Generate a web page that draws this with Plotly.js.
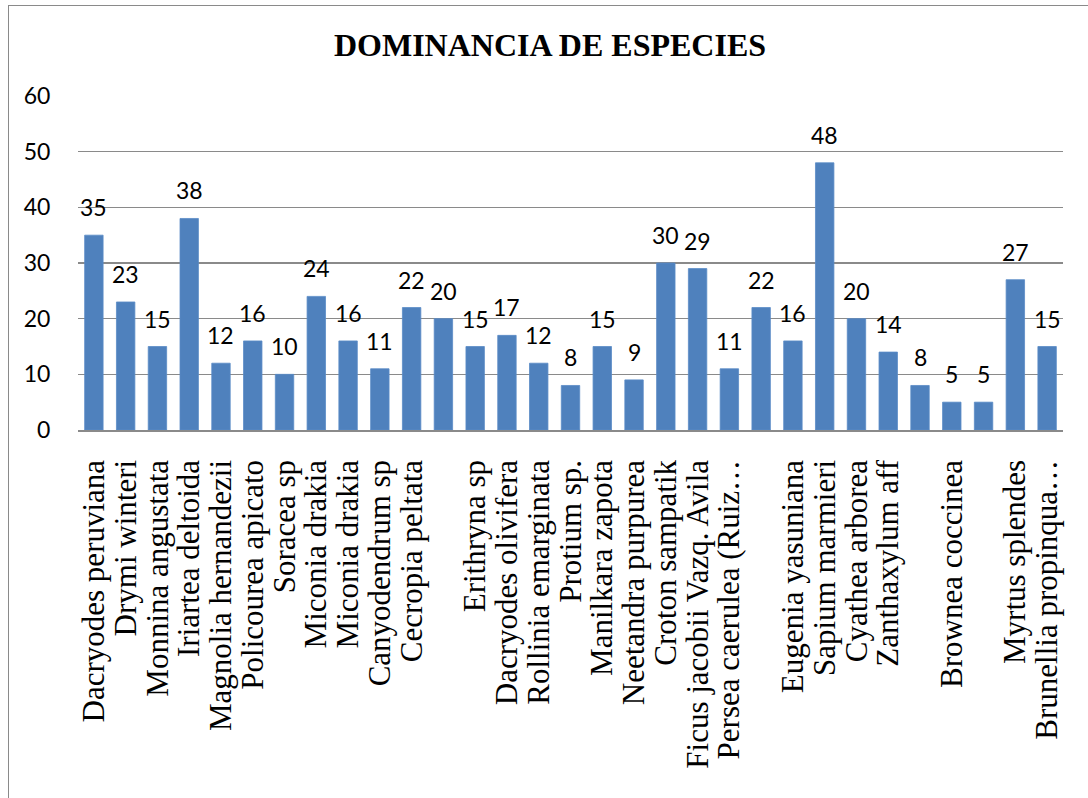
<!DOCTYPE html>
<html>
<head>
<meta charset="utf-8">
<script src="https://cdn.plot.ly/plotly-3.0.1.min.js"></script>
<style>
  html, body { margin: 0; padding: 0; background: #fff; overflow: hidden; }
  #chart { width: 1088px; height: 798px; position: absolute; left: 0; top: 0; }
  #frame { position: absolute; left: 8px; top: 5px; width: 1200px; height: 900px;
           border: 1.5px solid #8a8a8a; pointer-events: none; box-sizing: border-box; }
</style>
</head>
<body>
<div id="chart"></div>
<div id="frame"></div>
<script>
// ---- data ----
const categories = [
  "Dacryodes peruviana", "Drymi winteri", "Monnina angustata", "Iriartea deltoida",
  "Magnolia hernandezii", "Policourea apicato", "Soracea sp", "Miconia drakia",
  "Miconia drakia", "Canyodendrum sp", "Cecropia peltata", "",
  "Erithryna sp", "Dacryodes olivifera", "Rollinia emarginata", "Protium sp.",
  "Manilkara zapota", "Neetandra purpurea", "Croton sampatik", "Ficus jacobii Vazq. Avila",
  "Persea caerulea (Ruiz…", "", "Eugenia yasuniana", "Sapium marmieri",
  "Cyathea arborea", "Zanthaxylum aff", "", "Brownea coccinea",
  "", "Myrtus splendes", "Brunellia propinqua…"
];
const values = [
  35, 23, 15, 38, 12, 16, 10, 24, 16, 11, 22, 20, 15, 17, 12, 8,
  15, 9, 30, 29, 11, 22, 16, 48, 20, 14, 8, 5, 5, 27, 15
];
const yTicks = [0, 10, 20, 30, 40, 50, 60];
const chartTitle = "DOMINANCIA DE ESPECIES";

// ---- chart ----
const positions = categories.map((_, i) => i);

const trace = {
  type: "bar",
  x: positions,
  y: values,
  marker: { color: "#4F81BD", line: { color: "#5b8cc6", width: 0.8 } },
  hoverinfo: "skip"
};

const annotations = positions.map((p, i) => ({
  x: p, y: values[i], xref: "x", yref: "y",
  text: String(values[i]),
  showarrow: false, yanchor: "bottom", xanchor: "center", yshift: 12,
  font: { family: "Lato, 'Open Sans', sans-serif", size: 23, color: "#000" }
}));

const layout = {
  width: 1088, height: 798,
  margin: { l: 78, r: 25, t: 96, b: 368, pad: 0 },
  paper_bgcolor: "#ffffff", plot_bgcolor: "#ffffff",
  showlegend: false,
  bargap: 0.42,
  title: {
    text: "<b>" + chartTitle + "</b>",
    font: { family: "'Liberation Serif', 'Times New Roman', serif", size: 32, color: "#000" },
    xref: "container", yref: "container",
    x: 550 / 1088, xanchor: "center",
    y: 1 - 45 / 798, yanchor: "middle"
  },
  xaxis: {
    type: "linear",
    range: [-0.5, categories.length - 0.5],
    tickmode: "array", tickvals: positions, ticktext: categories,
    tickangle: -90,
    ticks: "outside", ticklen: 16, tickcolor: "rgba(0,0,0,0)",
    tickfont: { family: "'Liberation Serif', 'Times New Roman', serif", size: 31, color: "#000" },
    showgrid: false, zeroline: false,
    showline: true, linecolor: "#8a8a8a", linewidth: 1.5,
    automargin: false, fixedrange: true
  },
  yaxis: {
    range: [0, 60],
    tickmode: "array", tickvals: yTicks, ticktext: yTicks.map(String),
    ticks: "outside", ticklen: 22, tickcolor: "rgba(0,0,0,0)",
    tickfont: { family: "Lato, 'Open Sans', sans-serif", size: 23, color: "#000" },
    showgrid: true, gridcolor: "#8a8a8a", gridwidth: 1.5,
    zeroline: false, showline: false,
    automargin: false, fixedrange: true
  },
  annotations: annotations
};

Plotly.newPlot("chart", [trace], layout, { displayModeBar: false, staticPlot: true });
</script>
</body>
</html>
